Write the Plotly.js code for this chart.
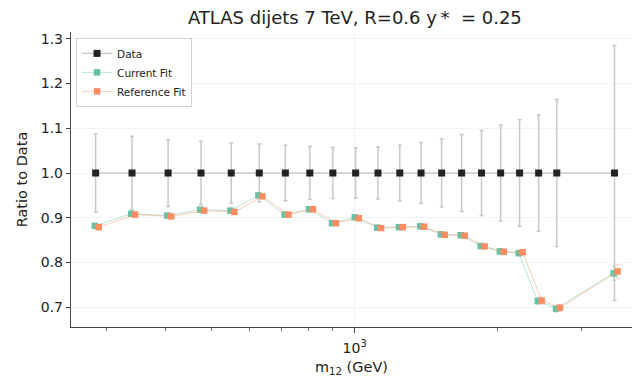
<!DOCTYPE html>
<html>
<head>
<meta charset="utf-8">
<script src="https://cdn.plot.ly/plotly-3.0.1.min.js"></script>
<style>html,body{margin:0;padding:0;background:#fff;}#chart{width:632px;height:377px;}</style>
</head>
<body>
<div id="chart"></div>
<script>
// Bin centres of the dijet mass (GeV)
const m12 = [285, 340, 405, 475, 550, 630, 715, 805, 900, 1005, 1120, 1245, 1380, 1525, 1680, 1850, 2030, 2225, 2440, 2665, 3525];
// Data ratio (always 1) and its total uncertainty
const dataRatio = [1,1,1,1,1,1,1,1,1,1,1,1,1,1,1,1,1,1,1,1,1];
const dataErr = [0.087, 0.082, 0.075, 0.071, 0.067, 0.065, 0.062, 0.059, 0.057, 0.056, 0.058, 0.062, 0.068, 0.076, 0.086, 0.095, 0.107, 0.119, 0.130, 0.164, 0.285];
// Current fit / data
const currentFit = [0.882, 0.909, 0.905, 0.918, 0.916, 0.950, 0.907, 0.919, 0.888, 0.901, 0.878, 0.879, 0.881, 0.863, 0.861, 0.837, 0.825, 0.821, 0.714, 0.697, 0.776];
const currentErr = [0.004, 0.004, 0.004, 0.004, 0.004, 0.004, 0.004, 0.004, 0.004, 0.004, 0.004, 0.004, 0.004, 0.005, 0.005, 0.005, 0.006, 0.006, 0.008, 0.008, 0.016];
// Reference fit / data
const referenceFit = [0.879, 0.907, 0.903, 0.916, 0.913, 0.948, 0.907, 0.919, 0.888, 0.899, 0.877, 0.879, 0.880, 0.862, 0.860, 0.836, 0.824, 0.823, 0.715, 0.699, 0.780];
const referenceErr = [0.004, 0.004, 0.004, 0.004, 0.004, 0.004, 0.004, 0.004, 0.004, 0.004, 0.004, 0.004, 0.004, 0.005, 0.005, 0.005, 0.006, 0.006, 0.008, 0.008, 0.016];
const seriesNames = ['Data', 'Current Fit', 'Reference Fit'];

const font = 'DejaVu Sans, sans-serif';
const xCur = m12.map(v => v * 0.996);
const xRef = m12.map(v => v * 1.015);

const traces = [
  {
    x: m12, y: dataRatio, name: seriesNames[0], type: 'scatter', mode: 'lines+markers',
    line: {color: 'rgba(190,190,190,0.8)', width: 1.5},
    marker: {symbol: 'square', size: 7, color: '#222222'},
    error_y: {type: 'data', array: dataErr, visible: true, color: 'rgba(190,190,190,0.85)', thickness: 1.5, width: 2}
  },
  {
    x: xCur, y: currentFit, name: seriesNames[1], type: 'scatter', mode: 'lines+markers',
    line: {color: 'rgba(102,194,165,0.45)', width: 1},
    marker: {symbol: 'square', size: 6.5, color: '#66c2a5'},
    error_y: {type: 'data', array: currentErr, visible: true, color: 'rgba(102,194,165,0.35)', thickness: 1, width: 2}
  },
  {
    x: xRef, y: referenceFit, name: seriesNames[2], type: 'scatter', mode: 'lines+markers',
    line: {color: 'rgba(252,141,98,0.45)', width: 1},
    marker: {symbol: 'square', size: 6.5, color: '#fc8d62'},
    error_y: {type: 'data', array: referenceErr, visible: true, color: 'rgba(252,141,98,0.35)', thickness: 1, width: 2}
  }
];

const layout = {
  width: 632, height: 377,
  margin: {l: 71, r: 0, t: 32, b: 50, pad: 0},
  paper_bgcolor: '#ffffff', plot_bgcolor: '#ffffff',
  font: {family: font, size: 14, color: '#222222'},
  title: {
    text: 'ATLAS dijets 7 TeV, R=0.6 y\u2009*\u00a0 = 0.25',
    font: {family: font, size: 18, color: '#222222'},
    x: 0.506, xref: 'paper', xanchor: 'center',
    y: 0.952, yref: 'container', yanchor: 'middle'
  },
  showlegend: true,
  legend: {
    x: 0.009, y: 0.98, xanchor: 'left', yanchor: 'top',
    bgcolor: 'rgba(255,255,255,0.9)', bordercolor: '#d0d0d0', borderwidth: 1,
    font: {family: font, size: 10.5, color: '#222222'},
    tracegroupgap: 0, itemwidth: 30
  },
  xaxis: {
    type: 'log', range: [2.403, 3.584],
    showline: true, linecolor: '#444444', linewidth: 1.2, mirror: false,
    zeroline: false,
    showgrid: true, gridcolor: '#f3f3f3', gridwidth: 1,
    tickmode: 'array', tickvals: [1000], ticktext: ['10<sup>3</sup>'],
    ticks: 'outside', ticklen: 5, tickwidth: 1, tickcolor: '#444444',
    ticklabelstandoff: 3,
    tickfont: {family: font, size: 14, color: '#222222'},
    minor: {tickmode: 'array', tickvals: [300, 400, 500, 600, 700, 800, 900, 2000, 3000], ticks: 'outside', ticklen: 3, tickwidth: 0.8, tickcolor: '#444444', showgrid: false},
    title: {text: 'm<sub>12</sub> (GeV)', font: {family: font, size: 14.5, color: '#222222'}, standoff: 8}
  },
  yaxis: {
    range: [0.656, 1.315],
    showline: true, linecolor: '#444444', linewidth: 1.2, mirror: false,
    zeroline: false,
    showgrid: true, gridcolor: '#f3f3f3', gridwidth: 1,
    tickmode: 'array', tickvals: [0.7, 0.8, 0.9, 1.0, 1.1, 1.2, 1.3], ticktext: ['0.7', '0.8', '0.9', '1.0', '1.1', '1.2', '1.3'],
    ticks: 'outside', ticklen: 4, tickwidth: 1, tickcolor: '#444444',
    tickfont: {family: font, size: 14, color: '#222222'},
    title: {text: 'Ratio to Data', font: {family: font, size: 14.5, color: '#222222'}, standoff: 9}
  }
};

Plotly.newPlot('chart', traces, layout, {displayModeBar: false, staticPlot: true});
</script>
</body>
</html>
